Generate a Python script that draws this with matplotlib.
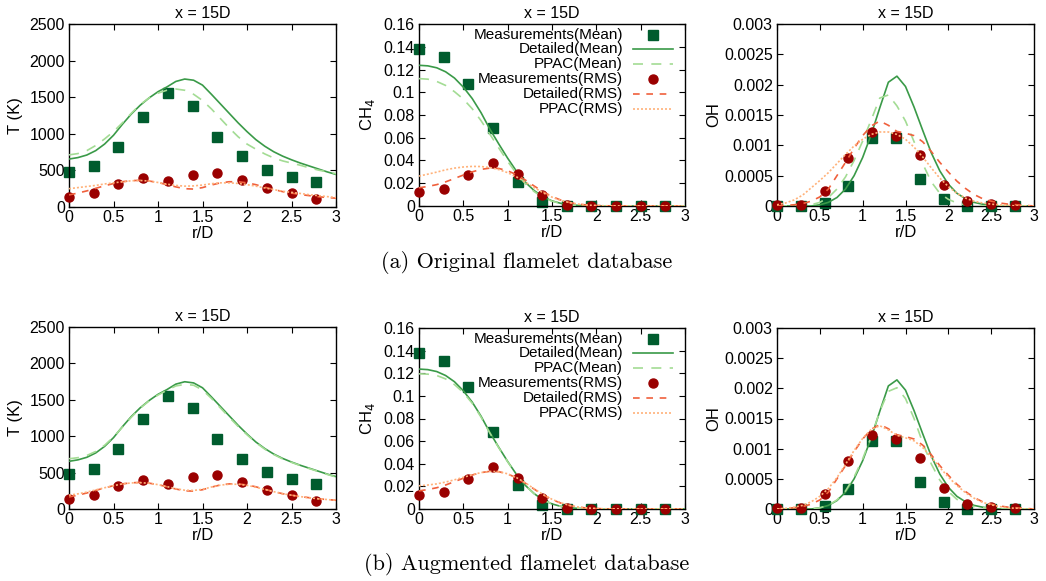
import matplotlib
matplotlib.use("Agg")
import matplotlib.pyplot as plt
from matplotlib.lines import Line2D
from matplotlib.ticker import FuncFormatter, MultipleLocator

plt.rcParams["font.family"] = ["Liberation Sans", "DejaVu Sans"]

# measurement radii (r/D) and model grid
r_exp = [0.0, 0.278, 0.556, 0.833, 1.111, 1.389, 1.667, 1.944, 2.222, 2.5, 2.778]
r_mod = [0.0, 0.1, 0.2, 0.3, 0.4, 0.5, 0.6, 0.7, 0.8, 0.9, 1.0, 1.1, 1.2, 1.3, 1.4, 1.5,
         1.6, 1.7, 1.8, 1.9, 2.0, 2.1, 2.2, 2.3, 2.4, 2.5, 2.6, 2.7, 2.8, 2.9, 3.0]

# ---- temperature ----
T_exp_mean = [475, 555, 820, 1235, 1555, 1385, 960, 690, 510, 415, 345]
T_exp_rms = [135, 190, 315, 400, 350, 440, 465, 375, 265, 195, 105]
T_det_mean = [655, 675, 710, 770, 860, 980, 1130, 1270, 1390, 1490, 1575, 1640, 1715, 1748,
              1732, 1665, 1540, 1410, 1280, 1150, 1030, 920, 830, 755, 695, 645, 600, 560,
              520, 480, 445]
T_det_rms = [165, 190, 220, 255, 290, 320, 345, 360, 365, 355, 335, 305, 275, 250, 245, 265,
             300, 330, 345, 345, 330, 305, 270, 240, 210, 190, 170, 155, 140, 130, 120]
T_ppac_mean_a = [712, 730, 770, 840, 930, 1030, 1150, 1280, 1400, 1490, 1555, 1595, 1612,
                 1595, 1540, 1455, 1340, 1210, 1080, 960, 860, 790, 725, 670, 630, 600, 570,
                 535, 505, 480, 455]
T_ppac_rms_a = [250, 265, 280, 295, 315, 330, 345, 358, 362, 355, 335, 312, 295, 285, 288,
                300, 318, 330, 330, 322, 305, 285, 260, 238, 215, 200, 185, 168, 155, 142, 130]
T_ppac_mean_b = [690, 705, 735, 790, 875, 990, 1125, 1260, 1385, 1485, 1565, 1630, 1690, 1712,
                 1700, 1635, 1520, 1390, 1260, 1135, 1020, 912, 822, 748, 688, 640, 596, 555,
                 515, 475, 440]
T_ppac_rms_b = [190, 208, 232, 262, 292, 320, 345, 358, 362, 353, 335, 307, 280, 258, 255, 270,
                302, 328, 340, 340, 325, 300, 268, 238, 210, 190, 170, 155, 140, 130, 120]

# ---- CH4 ----
CH4_exp_mean = [0.1376, 0.131, 0.1075, 0.0685, 0.0215, 0.0035, 0.0, 0.0, 0.0, 0.0, 0.0]
CH4_exp_rms = [0.0121, 0.0153, 0.0269, 0.0375, 0.0277, 0.0100, 0.0006, 0.0, 0.0, 0.0, 0.0]
CH4_det_mean = [0.1237, 0.1232, 0.1215, 0.1180, 0.1125, 0.1045, 0.0945, 0.0820, 0.0675, 0.0545,
                0.0420, 0.0305, 0.0208, 0.0135, 0.0080, 0.0045, 0.0023, 0.0011, 0.0005, 0.0002,
                0.0001, 0, 0, 0, 0, 0, 0, 0, 0, 0, 0]
CH4_det_rms = [0.0160, 0.0172, 0.0188, 0.0212, 0.0242, 0.0272, 0.0300, 0.0322, 0.0333, 0.0330,
               0.0310, 0.0275, 0.0228, 0.0175, 0.0125, 0.0083, 0.0052, 0.0030, 0.0016, 0.0008,
               0.0004, 0.0002, 0.0001, 0, 0, 0, 0, 0, 0, 0, 0]
CH4_ppac_mean_a = [0.1120, 0.1115, 0.1095, 0.1060, 0.1005, 0.0940, 0.0855, 0.0750, 0.0630,
                   0.0510, 0.0392, 0.0285, 0.0195, 0.0126, 0.0075, 0.0042, 0.0022, 0.0010,
                   0.0004, 0.0002, 0.0001, 0, 0, 0, 0, 0, 0, 0, 0, 0, 0]
CH4_ppac_rms_a = [0.0263, 0.0280, 0.0298, 0.0318, 0.0333, 0.0343, 0.0348, 0.0347, 0.0338,
                  0.0320, 0.0293, 0.0256, 0.0210, 0.0162, 0.0116, 0.0078, 0.0049, 0.0029,
                  0.0016, 0.0008, 0.0004, 0.0002, 0.0001, 0, 0, 0, 0, 0, 0, 0, 0]
CH4_ppac_mean_b = [0.1195, 0.1192, 0.1180, 0.1150, 0.1100, 0.1030, 0.0935, 0.0812, 0.0670,
                   0.0541, 0.0417, 0.0303, 0.0207, 0.0134, 0.0080, 0.0045, 0.0023, 0.0011,
                   0.0005, 0.0002, 0.0001, 0, 0, 0, 0, 0, 0, 0, 0, 0, 0]
CH4_ppac_rms_b = [0.0205, 0.0212, 0.0222, 0.0238, 0.0258, 0.0280, 0.0303, 0.0322, 0.0332,
                  0.0330, 0.0311, 0.0277, 0.0231, 0.0178, 0.0128, 0.0086, 0.0054, 0.0032,
                  0.0017, 0.0009, 0.0004, 0.0002, 0.0001, 0, 0, 0, 0, 0, 0, 0, 0]

# ---- OH ----
OH_exp_mean = [0.0, 0.0, 0.00005, 0.00033, 0.00112, 0.00112, 0.00044, 0.00011, 0.0, 0.0, 0.0]
OH_exp_rms = [0.00001, 0.00002, 0.00025, 0.00079, 0.00122, 0.00116, 0.00084, 0.00035,
              0.00009, 0.00004, 0.00001]
OH_det_mean = [0, 0, 0, 0, 0, 0.00002, 0.00006, 0.00014, 0.00028, 0.00050, 0.00080, 0.00118,
               0.00162, 0.00204, 0.00214, 0.00197, 0.00163, 0.00125, 0.00088, 0.00058, 0.00036,
               0.00021, 0.00012, 0.00006, 0.00003, 0.00001, 0, 0, 0, 0, 0]
OH_det_rms = [0, 0.00001, 0.00002, 0.00004, 0.00008, 0.00015, 0.00028, 0.00050, 0.00072,
              0.00095, 0.00116, 0.00132, 0.00140, 0.00133, 0.00123, 0.00120, 0.00116, 0.00106,
              0.00090, 0.00072, 0.00056, 0.00041, 0.00029, 0.00019, 0.00012, 0.00008, 0.00005,
              0.00003, 0.00002, 0.00001, 0]
OH_ppac_mean_a = [0, 0, 0, 0, 0.00002, 0.00006, 0.00014, 0.00028, 0.00048, 0.00075, 0.00107,
                  0.00142, 0.00178, 0.00183, 0.00165, 0.00140, 0.00106, 0.00070, 0.00040,
                  0.00021, 0.00011, 0.00005, 0.00002, 0.00001, 0, 0, 0, 0, 0, 0, 0]
OH_ppac_rms_a = [0.00002, 0.00005, 0.00010, 0.00018, 0.00030, 0.00042, 0.00055, 0.00070,
                 0.00085, 0.00099, 0.00110, 0.00118, 0.00122, 0.00122, 0.00118, 0.00110,
                 0.00097, 0.00081, 0.00063, 0.00046, 0.00032, 0.00021, 0.00013, 0.00008,
                 0.00005, 0.00003, 0.00002, 0.00001, 0, 0, 0]
OH_ppac_mean_b = [0, 0, 0, 0, 0, 0.00002, 0.00006, 0.00015, 0.00030, 0.00053, 0.00083,
                  0.00120, 0.00162, 0.00195, 0.00201, 0.00183, 0.00150, 0.00110, 0.00075,
                  0.00048, 0.00029, 0.00016, 0.00009, 0.00004, 0.00002, 0.00001, 0, 0, 0, 0, 0]
OH_ppac_rms_b = [0, 0.00001, 0.00003, 0.00006, 0.00012, 0.00021, 0.00034, 0.00052, 0.00074,
                 0.00097, 0.00117, 0.00132, 0.00138, 0.00131, 0.00122, 0.00118, 0.00113,
                 0.00102, 0.00086, 0.00069, 0.00053, 0.00039, 0.00027, 0.00018, 0.00011,
                 0.00007, 0.00004, 0.00002, 0.00001, 0, 0]

labels = ["Measurements(Mean)", "Detailed(Mean)", "PPAC(Mean)",
          "Measurements(RMS)", "Detailed(RMS)", "PPAC(RMS)"]

C_SQ = "#005c2e"
C_DET = "#3a9a48"
C_PPAC = "#a3dc94"
C_CIR = "#9a0000"
C_DRMS = "#f0603c"
C_PRMS = "#ffb27a"

styles = [
    dict(ls="none", marker="s", ms=6.5, color=C_SQ),
    dict(ls="-", lw=1.2, color=C_DET),
    dict(ls=(0, (6, 5)), lw=1.2, color=C_PPAC),
    dict(ls="none", marker="o", ms=6.5, color=C_CIR),
    dict(ls=(0, (4, 4)), lw=1.2, color=C_DRMS),
    dict(ls=(0, (1.2, 1.2)), lw=1.2, color=C_PRMS),
]

W, H = 1046, 581
fig = plt.figure(figsize=(W / 100, H / 100), dpi=100)


def box(x0, x1, y0, y1):
    return [x0 / W, 1 - y1 / H, (x1 - x0) / W, (y1 - y0) / H]


fmt = FuncFormatter(lambda v, p: "%g" % round(v, 6))

panels = [
    # row a
    (box(69, 336, 24, 207), [T_exp_mean, T_det_mean, T_ppac_mean_a, T_exp_rms, T_det_rms, T_ppac_rms_a],
     (0, 2500), 500, "T (K)", -0.20, False),
    (box(419, 685, 24, 206), [CH4_exp_mean, CH4_det_mean, CH4_ppac_mean_a, CH4_exp_rms, CH4_det_rms, CH4_ppac_rms_a],
     (0, 0.16), 0.02, "CH$_4$", -0.195, True),
    (box(777, 1034, 24, 206), [OH_exp_mean, OH_det_mean, OH_ppac_mean_a, OH_exp_rms, OH_det_rms, OH_ppac_rms_a],
     (0, 0.003), 0.0005, "OH", -0.245, False),
    # row b
    (box(69, 336, 327, 509), [T_exp_mean, T_det_mean, T_ppac_mean_b, T_exp_rms, T_det_rms, T_ppac_rms_b],
     (0, 2500), 500, "T (K)", -0.20, False),
    (box(419, 685, 328, 509), [CH4_exp_mean, CH4_det_mean, CH4_ppac_mean_b, CH4_exp_rms, CH4_det_rms, CH4_ppac_rms_b],
     (0, 0.16), 0.02, "CH$_4$", -0.195, True),
    (box(777, 1034, 328, 509), [OH_exp_mean, OH_det_mean, OH_ppac_mean_b, OH_exp_rms, OH_det_rms, OH_ppac_rms_b],
     (0, 0.003), 0.0005, "OH", -0.245, False),
]

for rect, series, ylim, ystep, ylab, ylab_x, with_key in panels:
    ax = fig.add_axes(rect)
    for i, (vals, st) in enumerate(zip(series, styles)):
        xs = r_exp if i in (0, 3) else r_mod
        ax.plot(xs, vals, clip_on=(i not in (0, 3)), zorder=2 + i, **st)
    ax.set_xlim(0, 3)
    ax.set_ylim(*ylim)
    ax.xaxis.set_major_locator(MultipleLocator(0.5))
    ax.yaxis.set_major_locator(MultipleLocator(ystep))
    ax.xaxis.set_major_formatter(fmt)
    ax.yaxis.set_major_formatter(fmt)
    ax.tick_params(direction="in", top=True, right=True, length=4, width=0.8,
                   labelsize=11.5, pad=3)
    ax.tick_params(axis="x", pad=2)
    for s in ax.spines.values():
        s.set_linewidth(1.0)
    ax.set_title("x = 15D", fontsize=11.5, pad=4)
    ax.set_xlabel("r/D", fontsize=12, va="center")
    ax.xaxis.set_label_coords(0.5, -0.145)
    ax.set_ylabel(ylab, fontsize=12, va="center")
    ax.yaxis.set_label_coords(ylab_x, 0.5)

    if with_key:
        # gnuplot-like key: right-justified text, sample on the right
        y0 = 1 - 10.5 / 181
        dy = 14.8 / 181
        for k, (lab, st) in enumerate(zip(labels, styles)):
            yk = y0 - k * dy
            ax.text(0.767, yk, lab, transform=ax.transAxes, ha="right", va="center",
                    fontsize=11, zorder=20)
            if st["ls"] == "none":
                ax.add_line(Line2D([0.88], [yk], transform=ax.transAxes, clip_on=False,
                                   zorder=20, **st))
            else:
                ax.add_line(Line2D([0.805, 0.955], [yk, yk], transform=ax.transAxes,
                                   clip_on=False, zorder=20, **st))

fig.text(527 / W, 1 - 262 / H, "(a) Original flamelet database", fontfamily="cmr10",
         fontsize=16, ha="center", va="center")
fig.text(527 / W, 1 - 565 / H, "(b) Augmented flamelet database", fontfamily="cmr10",
         fontsize=16, ha="center", va="center")

fig.savefig("out.png", dpi=100)
